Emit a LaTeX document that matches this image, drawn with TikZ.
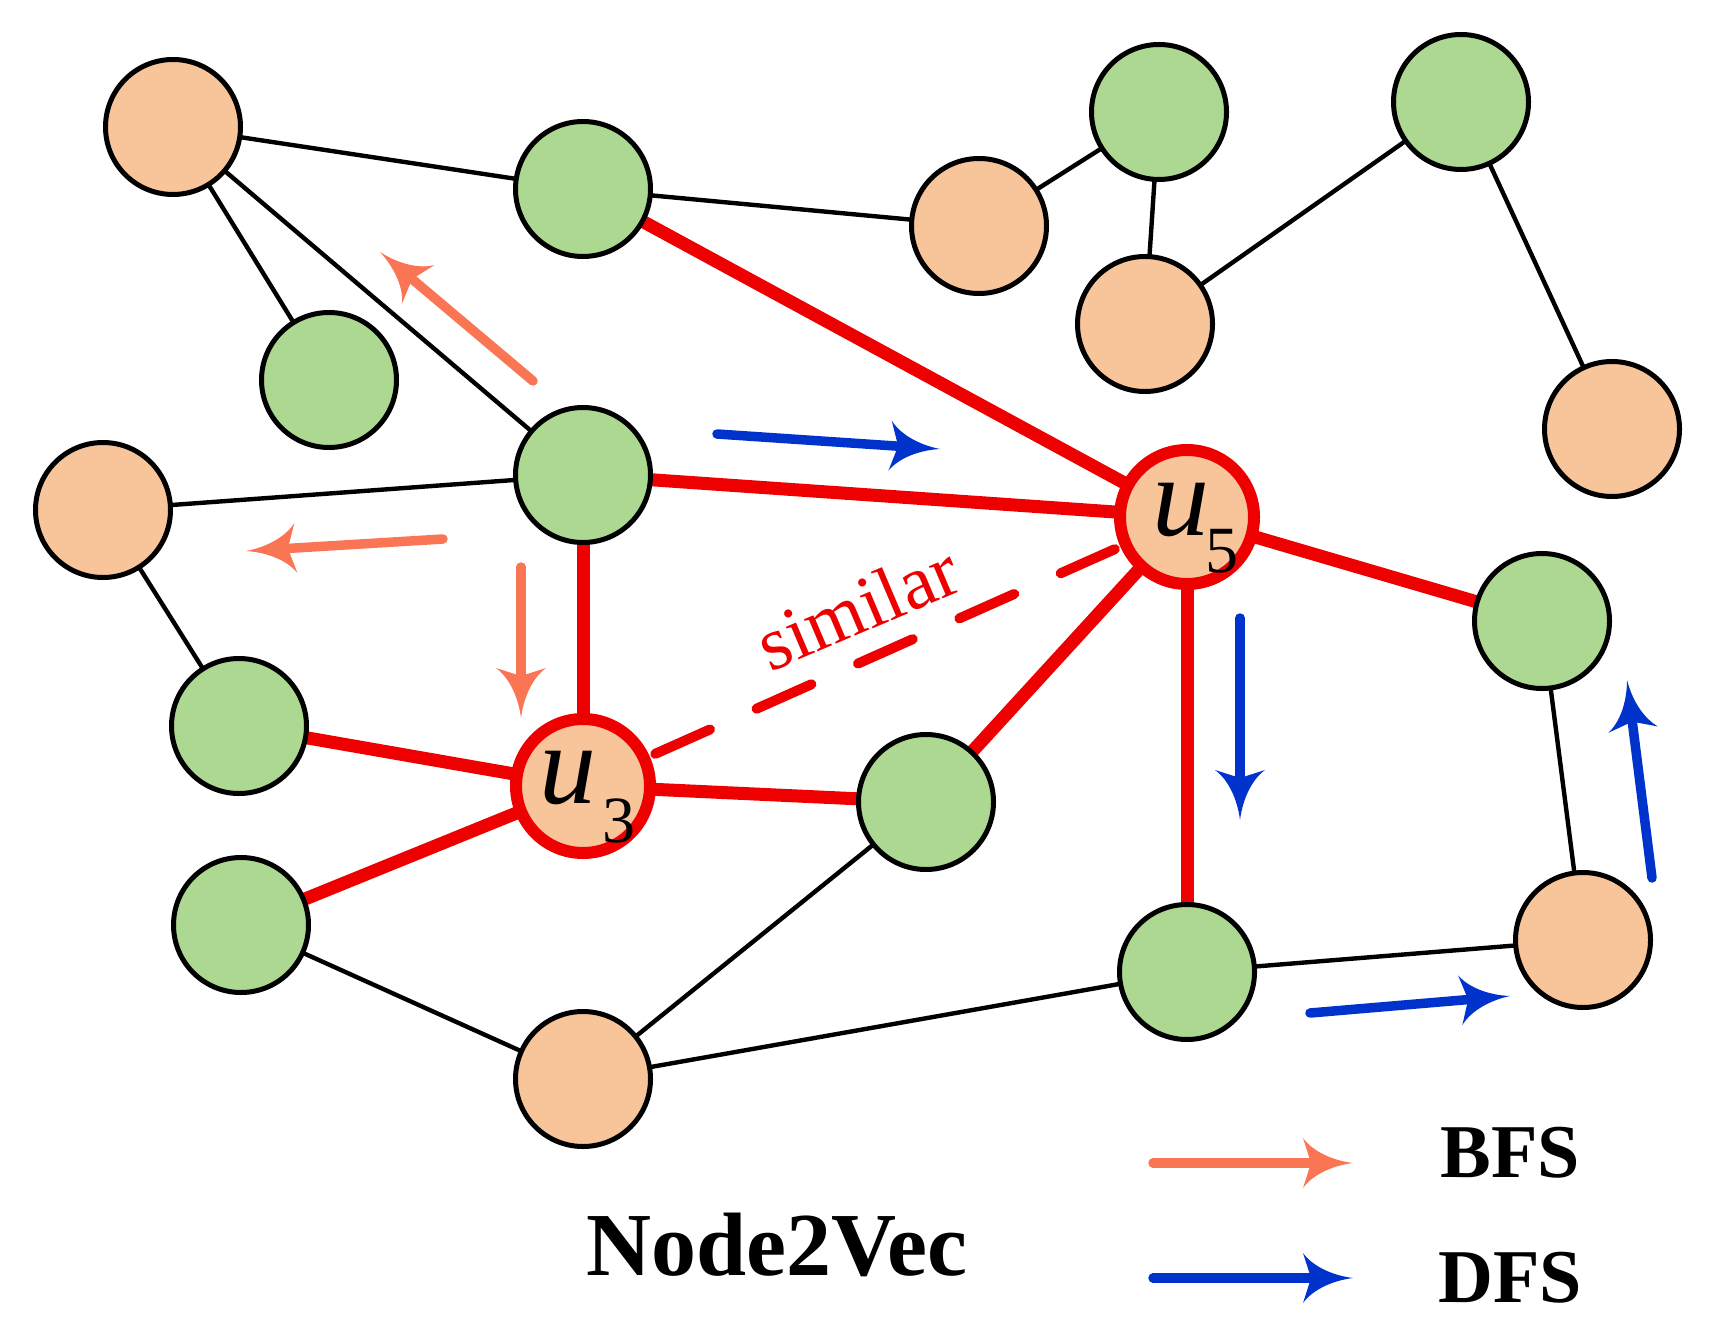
\documentclass[tikz,border=0pt]{standalone}
\usepackage{fontspec}
\setmainfont{Liberation Serif}
\usetikzlibrary{arrows.meta,backgrounds}
\definecolor{gfill}{RGB}{173,216,145}
\definecolor{ofill}{RGB}{248,197,155}
\definecolor{bfsc}{RGB}{250,117,83}
\definecolor{dfsc}{RGB}{0,51,204}
\definecolor{redc}{RGB}{238,0,0}
\pgfdeclarearrow{
  name = Swept,
  defaults = {length = 25pt, width = 25pt, inset = 4pt},
  parameters = {\the\pgfarrowlength,\the\pgfarrowwidth,\the\pgfarrowinset},
  setup code = {
    \pgfarrowssettipend{0pt}
    \pgfarrowssetlineend{-.6\pgfarrowlength}
    \pgfarrowssetbackend{-\pgfarrowlength}
    \pgfarrowshullpoint{0pt}{0pt}
    \pgfarrowsupperhullpoint{-\pgfarrowlength}{.5\pgfarrowwidth}
    \pgfarrowssavethe\pgfarrowlength
    \pgfarrowssavethe\pgfarrowwidth
    \pgfarrowssavethe\pgfarrowinset
  },
  drawing code = {
    \pgfpathmoveto{\pgfpointorigin}
    \pgfpathcurveto{\pgfpoint{-.4\pgfarrowlength}{.05\pgfarrowwidth}}{\pgfpoint{-.8\pgfarrowlength}{.225\pgfarrowwidth}}{\pgfpoint{-\pgfarrowlength}{.5\pgfarrowwidth}}
    \pgfpathlineto{\pgfpoint{-\pgfarrowlength+\pgfarrowinset}{0pt}}
    \pgfpathlineto{\pgfpoint{-\pgfarrowlength}{-.5\pgfarrowwidth}}
    \pgfpathcurveto{\pgfpoint{-.8\pgfarrowlength}{-.225\pgfarrowwidth}}{\pgfpoint{-.4\pgfarrowlength}{-.05\pgfarrowwidth}}{\pgfpointorigin}
    \pgfpathclose
    \pgfusepathqfill
  }
}
\tikzset{
  vtx/.style={circle,draw=black,line width=2.5pt,minimum size=67.5pt,inner sep=0pt},
  gnode/.style={vtx,fill=gfill},
  onode/.style={vtx,fill=ofill},
  unode/.style={circle,draw=redc,line width=6pt,minimum size=67pt,inner sep=0pt,fill=ofill},
  thinedge/.style={line width=2.2pt,black},
  rededge/.style={line width=6.5pt,redc},
  simline/.style={line width=5pt,redc,line cap=round,dash pattern=on 30pt off 25.5pt,shorten <=3pt,shorten >=3pt},
  tipstyle/.style={-{Swept[length=25pt,width=25pt,inset=4pt]}},
  bfs/.style={line width=4.75pt,bfsc,line cap=round,tipstyle},
  dfs/.style={line width=4.75pt,dfsc,line cap=round,tipstyle},
  ulab/.style={inner sep=0pt,anchor=base,font=\fontsize{57}{60}\selectfont\itshape},
  sublab/.style={inner sep=0pt,anchor=base,font=\fontsize{33}{36}\selectfont},
  legtext/.style={inner sep=0pt,anchor=base,font=\fontsize{38}{42}\selectfont\bfseries},
}
\begin{document}
\begin{tikzpicture}[x=0.5pt,y=-0.5pt]
\useasboundingbox (0,0) rectangle (1717,1342);
% nodes
\node[onode] (A) at (173,127) {};
\node[gnode] (B) at (583,189) {};
\node[onode] (C) at (979,226) {};
\node[gnode] (D) at (1159,112) {};
\node[onode] (E) at (1145,324) {};
\node[gnode] (F) at (1461,102) {};
\node[onode] (G) at (1612,429) {};
\node[gnode] (H) at (329,380) {};
\node[gnode] (I) at (583,475) {};
\node[onode] (J) at (103,510) {};
\node[unode] (u5) at (1187,517) {};
\node[gnode] (K) at (239,726) {};
\node[unode] (u3) at (583,786) {};
\node[gnode] (L) at (926,802) {};
\node[gnode] (M) at (1542,621) {};
\node[gnode] (N) at (241,925) {};
\node[gnode] (O) at (1187,972) {};
\node[onode] (P) at (1583,940) {};
\node[onode] (Q) at (583,1079) {};
% edges
\begin{pgfonlayer}{background}
\draw[thinedge] (A.center) -- (B.center);
\draw[thinedge] (A.center) -- (H.center);
\draw[thinedge] (A.center) -- (I.center);
\draw[thinedge] (B.center) -- (C.center);
\draw[thinedge] (C.center) -- (D.center);
\draw[thinedge] (D.center) -- (E.center);
\draw[thinedge] (E.center) -- (F.center);
\draw[thinedge] (F.center) -- (G.center);
\draw[thinedge] (I.center) -- (J.center);
\draw[thinedge] (J.center) -- (K.center);
\draw[thinedge] (L.center) -- (Q.center);
\draw[thinedge] (Q.center) -- (N.center);
\draw[thinedge] (Q.center) -- (O.center);
\draw[thinedge] (O.center) -- (P.center);
\draw[thinedge] (P.center) -- (M.center);
\draw[rededge] (B.center) -- (u5.center);
\draw[rededge] (I.center) -- (u5.center);
\draw[rededge] (I.center) -- (u3.center);
\draw[rededge] (u5.center) -- (M.center);
\draw[rededge] (u5.center) -- (O.center);
\draw[rededge] (u5.center) -- (L.center);
\draw[rededge] (u3.center) -- (K.center);
\draw[rededge] (u3.center) -- (N.center);
\draw[rededge] (u3.center) -- (L.center);
\end{pgfonlayer}
\draw[simline] (u3) -- (u5);
\node[inner sep=0pt,rotate=23,text=redc,font=\fontsize{38}{42}\selectfont] (sim) at (857,607) {similar};
% labels
\node[ulab] (u5u) at (1181,535) {u};
\node[sublab] (u5s) at (1222,572) {5};
\node[ulab] (u3u) at (568,803) {u};
\node[sublab] (u3s) at (619,842) {3};
% BFS arrows
\coordinate (b1s) at (533,381); \coordinate (b1e) at (380,252);
\coordinate (b2s) at (443,539); \coordinate (b2e) at (246,551);
\coordinate (b3s) at (521,567); \coordinate (b3e) at (521,718);
\draw[bfs] (b1s) -- (b1e);
\draw[bfs] (b2s) -- (b2e);
\draw[bfs] (b3s) -- (b3e);
% DFS arrows
\coordinate (d1s) at (717,434); \coordinate (d1e) at (940,449);
\coordinate (d2s) at (1240,618); \coordinate (d2e) at (1240,820);
\coordinate (d3s) at (1310,1013); \coordinate (d3e) at (1510,996);
\coordinate (d4s) at (1652,878); \coordinate (d4e) at (1627,680);
\draw[dfs] (d1s) -- (d1e);
\draw[dfs] (d2s) -- (d2e);
\draw[dfs] (d3s) -- (d3e);
\draw[dfs] (d4s) -- (d4e);
% legend
\coordinate (lbs) at (1153,1163); \coordinate (lbe) at (1353,1163);
\coordinate (lds) at (1153,1278); \coordinate (lde) at (1353,1278);
\draw[bfs] (lbs) -- (lbe);
\draw[dfs] (lds) -- (lde);
\node[legtext] (bfst) at (1510,1177) {BFS};
\node[legtext] (dfst) at (1510,1302) {DFS};
\node[inner sep=0pt,anchor=base,font=\fontsize{45}{50}\selectfont\bfseries] (title) at (777,1275) {Node2Vec};
\end{tikzpicture}
\end{document}
